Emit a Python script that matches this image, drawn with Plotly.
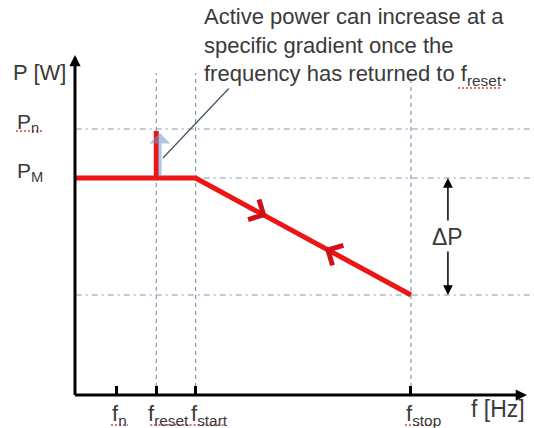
"""P(f) characteristic: active power reduction over frequency"""
import plotly.graph_objects as go

# frequency points on the f axis (arbitrary units)
f_labels = ["f<sub>n</sub>", "f<sub>reset</sub>", "f<sub>start</sub>", "f<sub>stop</sub>"]
f_values = [1.05, 2.05, 3.05, 8.53]
f_n, f_reset, f_start, f_stop = f_values

# power levels (arbitrary units)
p_labels = ["P<sub>n</sub>", "P<sub>M</sub>"]
p_n, p_m, p_low = 2.66, 2.17, 1.0
p_levels = [p_n, p_m, p_low]

# characteristic: flat at P_M up to f_start, then linear drop to f_stop
curve_f = [0, f_start, f_stop]
curve_p = [p_m, p_m, p_low]
spike_p = [p_m, 2.64]

RED = "#ee1515"
GUIDE = "#8596ba"
TEXT = "#3a3a3a"
FONT = "Arial, Liberation Sans, sans-serif"
W, H = 534, 428
ML, MB = 75, 33
X_RANGE = [-0.018, 11.66]
Y_RANGE = [0, 3.95]


def on_ramp(t):
    """point at fraction t along the falling ramp"""
    return f_start + t * (f_stop - f_start), p_m + t * (p_low - p_m)


def px_to_paper(px, py):
    return (px - ML) / (W - ML), (H - MB - py) / (H - MB)


def f_to_px(f):
    return ML + (f - X_RANGE[0]) * (W - ML) / (X_RANGE[1] - X_RANGE[0])


def arrow(x, y, ax, ay, color, width, head=2, size=1.0, opacity=1.0):
    return dict(x=x, y=y, ax=ax, ay=ay, xref="x", yref="y", axref="x", ayref="y",
                text="", showarrow=True, arrowhead=head, arrowsize=size,
                arrowwidth=width, arrowcolor=color, opacity=opacity, standoff=0)


def squiggle(px0, px1, py):
    """red spell-check underline"""
    x0, y0 = px_to_paper(px0, py)
    x1, _ = px_to_paper(px1, py)
    return dict(type="line", xref="paper", yref="paper", x0=x0, x1=x1, y0=y0, y1=y0,
                line=dict(color="#e04040", width=1.3, dash="2px,2px"))


fig = go.Figure()
fig.add_trace(go.Scatter(x=curve_f, y=curve_p, mode="lines",
                         line=dict(color=RED, width=5), hoverinfo="skip"))
fig.add_trace(go.Scatter(x=[f_reset, f_reset], y=spike_p, mode="lines",
                         line=dict(color=RED, width=5), hoverinfo="skip"))

# dash-dot guide lines
for p in p_levels:
    fig.add_shape(type="line", x0=0, x1=X_RANGE[1], y0=p, y1=p, layer="below",
                  line=dict(color=GUIDE, width=1.2, dash="6px,4px,2px,4px"))
for f in f_values[1:]:
    fig.add_shape(type="line", x0=f, x1=f, y0=0, y1=3.22, layer="below",
                  line=dict(color=GUIDE, width=1.2, dash="4px,4px"))

# spell-check underlines under the subscripts
for f, w in zip(f_values, [17, 38, 36, 31]):
    fig.add_shape(squiggle(f_to_px(f) - 6, f_to_px(f) - 6 + w, 425))
fig.add_shape(squiggle(16, 42, 131))
fig.add_shape(squiggle(458, 502, 88))

ann = []
# hatched gradient arrow next to the spike
ann.append(arrow(f_reset + 0.09, spike_p[1] - 0.02, f_reset + 0.09, p_m,
                 "rgba(110,150,210,0.55)", 3.5, head=1, size=1.0))
# axes
ann.append(arrow(11.48, 0, -0.06, 0, "black", 3, size=0.75))
ann.append(arrow(X_RANGE[0], 3.40, X_RANGE[0], -0.015, "black", 3, size=0.75))
# direction marks on the ramp
for t0, t1 in [(0.29, 0.33), (0.64, 0.60)]:
    x0, y0 = on_ramp(t0)
    x1, y1 = on_ramp(t1)
    ann.append(arrow(x1, y1, x0, y0, "#d0101c", 2, head=4, size=2.2))
# delta P double arrow
dp_x, dp_y = 9.47, 1.58
ann.append(arrow(dp_x, p_m, dp_x, dp_y + 0.15, "black", 1.5, size=1.3))
ann.append(arrow(dp_x, p_low, dp_x, dp_y - 0.13, "black", 1.5, size=1.3))
ann.append(dict(x=dp_x, y=dp_y, xref="x", yref="y", text="ΔP", showarrow=False,
                font=dict(size=23, color=TEXT, family=FONT)))
# callout text and pointer
ann.append(dict(x=3.21, y=3.93, xref="x", yref="y", xanchor="left", yanchor="top",
                align="left", showarrow=False, font=dict(size=22, color=TEXT, family=FONT),
                text="Active power can increase at a<br>specific gradient once the<br>"
                     "frequency has returned to f<sub>reset</sub>."))
ann.append(arrow(f_reset + 0.17, p_m + 0.2, 3.93, 3.08, "#4d5566", 1.3, head=0))
# axis labels
x_lbl, y_lbl = px_to_paper(68, 58)
ann.append(dict(x=x_lbl, y=y_lbl, xref="paper", yref="paper", xanchor="right",
                text="P [W]", showarrow=False, font=dict(size=22, color=TEXT, family=FONT)))
for lbl, p in zip(p_labels, [p_n, p_m]):
    ann.append(dict(x=px_to_paper(15, 0)[0], y=p, yshift=6, xref="paper", yref="y",
                    xanchor="left", text=lbl, showarrow=False,
                    font=dict(size=21, color=TEXT, family=FONT)))
for lbl, f in zip(f_labels, f_values):
    ann.append(dict(x=f, y=0, xshift=-10 if f == f_reset else -7, yshift=-4,
                    xref="x", yref="y", xanchor="left", yanchor="top",
                    text=lbl, showarrow=False, font=dict(size=22, color=TEXT, family=FONT)))
ann.append(dict(x=11.48, y=0, yshift=-14, xref="x", yref="y", xanchor="right",
                text="f [Hz]", showarrow=False, font=dict(size=23, color=TEXT, family=FONT)))

fig.update_layout(
    width=W, height=H, margin=dict(l=ML, r=0, t=0, b=MB),
    plot_bgcolor="white", paper_bgcolor="white", showlegend=False,
    annotations=ann,
    xaxis=dict(range=X_RANGE, showgrid=False, zeroline=False, showline=False,
               tickvals=f_values, ticks="inside", ticklen=9, tickwidth=3,
               tickcolor="black", showticklabels=False, fixedrange=True),
    yaxis=dict(range=Y_RANGE, showgrid=False, zeroline=False, showline=False,
               showticklabels=False, ticks="", fixedrange=True),
)
# the page body has a default 8px margin; drop it so the figure sits at 0,0
fig.write_html("out.html", config={"displayModeBar": False},
               post_script="document.body.style.margin='0';")
